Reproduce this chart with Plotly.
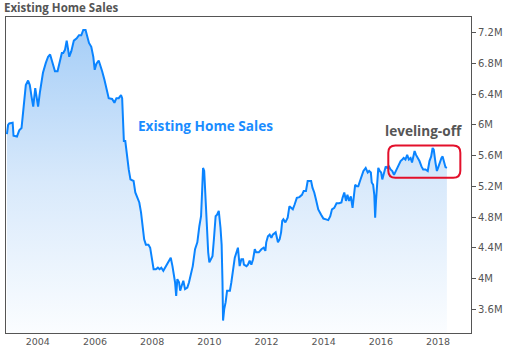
import plotly.graph_objects as go

years = [
    2002.92, 2002.96, 2003.00, 2003.12, 2003.15, 2003.27, 2003.35, 2003.43, 2003.47, 2003.52,
    2003.58, 2003.66, 2003.72, 2003.78, 2003.84, 2003.91, 2003.95, 2004.01, 2004.07, 2004.13,
    2004.18, 2004.28, 2004.36, 2004.43, 2004.51, 2004.60, 2004.69, 2004.77, 2004.84, 2004.89,
    2004.95, 2005.01, 2005.05, 2005.10, 2005.17, 2005.26, 2005.36, 2005.44, 2005.52, 2005.59,
    2005.67, 2005.73, 2005.79, 2005.87, 2005.94, 2005.99, 2006.05, 2006.13, 2006.19, 2006.25,
    2006.33, 2006.40, 2006.48, 2006.60, 2006.68, 2006.75, 2006.83, 2006.91, 2006.95, 2006.98,
    2007.01, 2007.06, 2007.12, 2007.18, 2007.24, 2007.35, 2007.41, 2007.49, 2007.55, 2007.61,
    2007.66, 2007.72, 2007.78, 2007.87, 2007.93, 2007.99, 2008.05, 2008.13, 2008.20, 2008.26,
    2008.32, 2008.39, 2008.49, 2008.57, 2008.65, 2008.71, 2008.74, 2008.80, 2008.84, 2008.88,
    2008.94, 2008.98, 2009.03, 2009.09, 2009.15, 2009.23, 2009.29, 2009.35, 2009.42, 2009.50,
    2009.58, 2009.65, 2009.71, 2009.75, 2009.78, 2009.82, 2009.86, 2009.90, 2009.93, 2009.96,
    2010.00, 2010.05, 2010.11, 2010.16, 2010.22, 2010.27, 2010.33, 2010.39, 2010.43, 2010.46,
    2010.48, 2010.52, 2010.57, 2010.62, 2010.72, 2010.77, 2010.83, 2010.89, 2010.95, 2011.00,
    2011.06, 2011.12, 2011.18, 2011.21, 2011.30, 2011.35, 2011.41, 2011.47, 2011.53, 2011.59,
    2011.64, 2011.73, 2011.82, 2011.90, 2011.96, 2011.99, 2012.05, 2012.11, 2012.17, 2012.22,
    2012.32, 2012.36, 2012.40, 2012.46, 2012.51, 2012.55, 2012.59, 2012.66, 2012.74, 2012.80,
    2012.86, 2012.92, 2012.98, 2013.06, 2013.15, 2013.24, 2013.30, 2013.38, 2013.44, 2013.56,
    2013.61, 2013.67, 2013.73, 2013.81, 2013.91, 2013.99, 2014.08, 2014.16, 2014.23, 2014.29,
    2014.37, 2014.45, 2014.54, 2014.62, 2014.66, 2014.72, 2014.78, 2014.83, 2014.89, 2014.95,
    2015.01, 2015.06, 2015.10, 2015.16, 2015.21, 2015.27, 2015.33, 2015.39, 2015.47, 2015.54,
    2015.59, 2015.65, 2015.68, 2015.73, 2015.77, 2015.80, 2015.83, 2015.87, 2015.91, 2015.96,
    2016.01, 2016.05, 2016.11, 2016.17, 2016.22, 2016.28, 2016.34, 2016.40, 2016.46, 2016.52,
    2016.57, 2016.63, 2016.69, 2016.75, 2016.80, 2016.86, 2016.92, 2016.98, 2017.04, 2017.09,
    2017.13, 2017.18, 2017.23, 2017.29, 2017.35, 2017.42, 2017.48, 2017.56, 2017.64, 2017.70,
    2017.76, 2017.81, 2017.85, 2017.91, 2017.96, 2018.00, 2018.05, 2018.12, 2018.16, 2018.20,
    2018.26, 2018.31,
]

sales_millions = [
    5.88, 6.00, 6.02, 6.03, 5.86, 5.85, 5.93, 5.96, 6.11, 6.33,
    6.52, 6.58, 6.52, 6.37, 6.24, 6.48, 6.35, 6.24, 6.42, 6.55,
    6.68, 6.81, 6.89, 6.92, 6.83, 6.70, 6.70, 6.83, 6.94, 6.94,
    6.98, 7.10, 7.00, 6.89, 6.96, 7.10, 7.13, 7.17, 7.17, 7.24,
    7.24, 7.17, 7.07, 7.02, 6.89, 6.72, 6.80, 6.84, 6.78, 6.70,
    6.59, 6.48, 6.35, 6.34, 6.29, 6.35, 6.35, 6.39, 6.35, 6.07,
    5.79, 5.79, 5.57, 5.42, 5.29, 5.27, 5.12, 5.05, 4.99, 4.86,
    4.68, 4.51, 4.44, 4.44, 4.40, 4.25, 4.12, 4.12, 4.14, 4.12,
    4.14, 4.10, 4.16, 4.21, 4.27, 4.16, 4.08, 3.95, 3.77, 3.99,
    3.95, 3.84, 3.90, 3.97, 3.86, 3.88, 3.95, 4.05, 4.16, 4.38,
    4.47, 4.68, 4.81, 5.16, 5.44, 5.40, 5.07, 4.77, 4.42, 4.34,
    4.21, 4.25, 4.29, 4.51, 4.81, 4.83, 4.88, 4.66, 4.44, 3.95,
    3.45, 3.60, 3.69, 3.84, 3.84, 3.95, 4.12, 4.27, 4.34, 4.40,
    4.16, 4.25, 4.25, 4.18, 4.16, 4.18, 4.23, 4.18, 4.25, 4.38,
    4.34, 4.34, 4.38, 4.40, 4.36, 4.47, 4.55, 4.57, 4.53, 4.57,
    4.60, 4.53, 4.47, 4.51, 4.60, 4.75, 4.77, 4.73, 4.79, 4.94,
    4.92, 4.90, 4.96, 5.05, 5.06, 5.09, 5.14, 5.14, 5.27, 5.27,
    5.18, 5.12, 5.03, 4.90, 4.83, 4.78, 4.77, 4.76, 4.81, 4.90,
    4.92, 4.98, 4.98, 4.99, 5.05, 5.12, 5.01, 5.09, 5.01, 5.07,
    4.92, 5.09, 5.22, 5.20, 5.20, 5.27, 5.35, 5.40, 5.44, 5.38,
    5.40, 5.38, 5.25, 5.22, 5.09, 4.79, 5.01, 5.22, 5.44, 5.40,
    5.38, 5.29, 5.38, 5.46, 5.44, 5.46, 5.42, 5.40, 5.35, 5.40,
    5.44, 5.48, 5.53, 5.55, 5.57, 5.55, 5.61, 5.55, 5.57, 5.51,
    5.59, 5.66, 5.61, 5.57, 5.53, 5.46, 5.42, 5.42, 5.40, 5.53,
    5.59, 5.70, 5.68, 5.51, 5.40, 5.44, 5.51, 5.57, 5.59, 5.53,
    5.45, 5.44,
]
assert len(years) == len(sales_millions)

x_ticks = [2004, 2006, 2008, 2010, 2012, 2014, 2016, 2018]
y_ticks = [3.6, 4.0, 4.4, 4.8, 5.2, 5.6, 6.0, 6.4, 6.8, 7.2]
y_tick_labels = ["3.6M", "4M", "4.4M", "4.8M", "5.2M", "5.6M", "6M", "6.4M", "6.8M", "7.2M"]

chart_title = "Existing Home Sales"
series_label = "Existing Home Sales"
callout_label = "leveling-off"

LINE = "#0a84ff"
AXIS = "#555555"
TEXT = "#555555"

fig = go.Figure()
fig.add_trace(go.Scatter(
    x=years, y=sales_millions, mode="lines",
    line=dict(color=LINE, width=2),
    fill="tozeroy",
    fillgradient=dict(type="vertical", start=3.29, stop=7.25,
                      colorscale=[[0, "#fbfdff"], [0.5, "#d8e9fb"], [1, "#a6cef7"]]),
    hoverinfo="skip", showlegend=False,
))

# rounded callout box (data coords)
x0, x1 = 2016.26, 2018.78
y0, y1 = 5.312, 5.731
rx, ry = 0.25, 0.092
path = (f"M {x0+rx},{y1} L {x1-rx},{y1} Q {x1},{y1} {x1},{y1-ry} "
        f"L {x1},{y0+ry} Q {x1},{y0} {x1-rx},{y0} L {x0+rx},{y0} "
        f"Q {x0},{y0} {x0},{y0+ry} L {x0},{y1-ry} Q {x0},{y1} {x0+rx},{y1} Z")
fig.add_shape(type="path", path=path, xref="x", yref="y",
              line=dict(color="#e3102b", width=2), fillcolor="rgba(0,0,0,0)")

fig.add_annotation(text=series_label, x=2009.87, y=5.99, xref="x", yref="y",
                   showarrow=False, xanchor="center", yanchor="middle",
                   font=dict(family="Open Sans", size=13.6, color="#1a8cff", weight="bold"))
fig.add_annotation(text=callout_label, x=2017.50, y=5.93, xref="x", yref="y",
                   showarrow=False, xanchor="center", yanchor="middle",
                   font=dict(family="Open Sans", size=13.6, color=TEXT, weight="bold"))
fig.add_annotation(text=chart_title, x=0, y=1, xref="paper", yref="paper",
                   xshift=-4, yshift=0, showarrow=False, xanchor="left", yanchor="bottom",
                   font=dict(family="Open Sans", size=11.5, color=TEXT, weight="bold"))

fig.update_layout(
    width=508, height=352,
    margin=dict(l=5, r=36, t=17, b=18),
    paper_bgcolor="white", plot_bgcolor="white",
    xaxis=dict(range=[2002.887, 2019.153], tickvals=x_ticks, ticktext=[str(t) for t in x_ticks],
               showgrid=False, zeroline=False, showline=True, mirror=True,
               linecolor=AXIS, linewidth=1, ticks="",
               tickfont=dict(family="DejaVu Sans", size=9.5, color=TEXT)),
    yaxis=dict(range=[3.288, 7.408], side="right", tickvals=y_ticks, ticktext=y_tick_labels,
               showgrid=False, zeroline=False, showline=True, mirror=True,
               linecolor=AXIS, linewidth=1, ticks="outside", ticklen=4, tickcolor=AXIS,
               tickfont=dict(family="DejaVu Sans", size=10, color=TEXT)),
)

fig.write_html("out.html")
